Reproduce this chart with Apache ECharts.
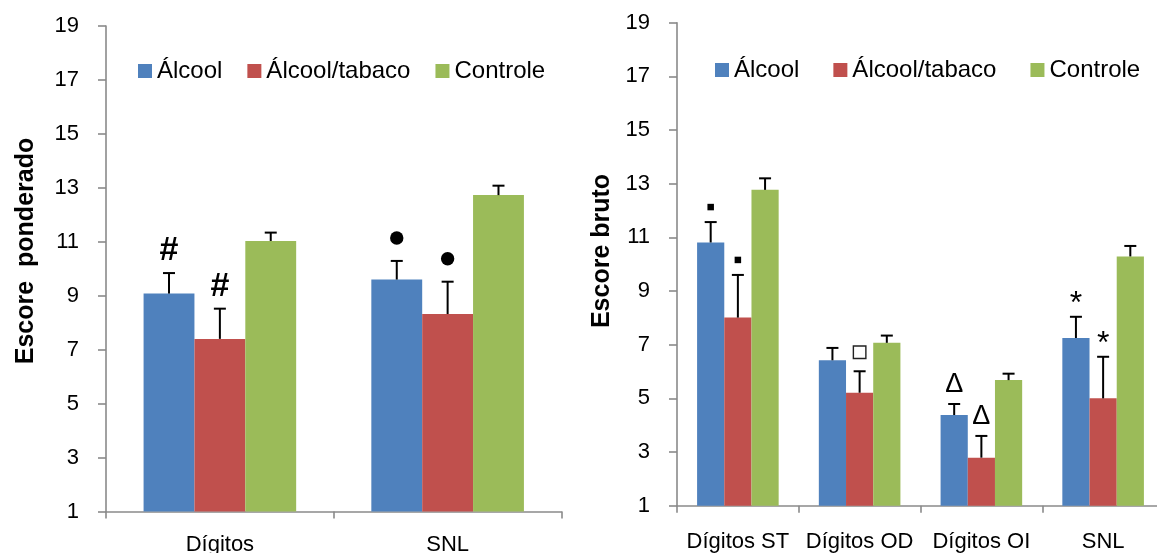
<!DOCTYPE html>
<html>
<head>
<meta charset="utf-8">
<script src="https://cdn.jsdelivr.net/npm/echarts@6/dist/echarts.min.js"></script>
<style>
  html, body { margin: 0; padding: 0; background: #fff; }
  #chart { width: 1157px; height: 553px; }
</style>
</head>
<body>
<div id="chart"></div>
<script>
// ---- data ----
const seriesNames = ['Álcool', 'Álcool/tabaco', 'Controle'];
const yTicks = [1, 3, 5, 7, 9, 11, 13, 15, 17, 19];

// Escore ponderado
const pondCats = ['Dígitos', 'SNL'];
const pondAlcool = [9.08, 9.60];
const pondAlcoolSE = [0.76, 0.69];
const pondAlcTab = [7.40, 8.32];
const pondAlcTabSE = [1.12, 1.20];
const pondControle = [11.03, 12.73];
const pondControleSE = [0.31, 0.35];
const pondMarks = [['#', '●'], ['#', '●'], ['', '']];

// Escore bruto
const brutoCats = ['Dígitos ST', 'Dígitos OD', 'Dígitos OI', 'SNL'];
const brutoAlcool = [10.81, 6.42, 4.38, 7.25];
const brutoAlcoolSE = [0.76, 0.46, 0.41, 0.79];
const brutoAlcTab = [8.01, 5.21, 2.79, 5.00];
const brutoAlcTabSE = [1.59, 0.80, 0.81, 1.55];
const brutoControle = [12.77, 7.07, 5.68, 10.29];
const brutoControleSE = [0.43, 0.27, 0.24, 0.39];
const brutoMarks = [['▪', '', 'Δ', '*'], ['▪', '□', 'Δ', '*'], ['', '', '', '']];

// ---- styling ----
const FONT = '"Liberation Sans", Arial, sans-serif';
const COLORS = ['#4F81BD', '#C0504D', '#9BBB59'];
const GAP = 0.33;
const AXIS_GRAY = '#8a8a8a';

const chart = echarts.init(document.getElementById('chart'), null, { renderer: 'canvas' });

function errorBarRenderer(pos) {
  return function (params, api) {
    const idx = api.value(0), mean = api.value(1), se = api.value(2);
    const band = api.size([1, 0])[0];
    const bw = band * (1 - GAP) / 3;
    const p0 = api.coord([idx, mean]);
    const p1 = api.coord([idx, mean + se]);
    const x = p0[0] + (pos - 1) * bw;
    const half = 6;
    const st = { stroke: '#000', lineWidth: 2 };
    return {
      type: 'group',
      children: [
        { type: 'line', shape: { x1: x, y1: p0[1], x2: x, y2: p1[1] }, style: st },
        { type: 'line', shape: { x1: x - half, y1: p1[1], x2: x + half, y2: p1[1] }, style: st }
      ]
    };
  };
}

// glyph drawing per marker kind: distance (px) of its centre above the error cap
const markStyles = {
  '#': { kind: 'text', font: 'bold 34px ' + FONT, lift: 22 },
  '●': { kind: 'circle', r: 6.7, lift: 23 },
  '▪': { kind: 'square', size: 6.5, lift: 15 },
  '□': { kind: 'box', size: 12.5, lift: 19 },
  'Δ': { kind: 'text', font: '27px ' + FONT, lift: 19 },
  '*': { kind: 'text', font: '32px ' + FONT, lift: 13 }
};

function markRenderer(pos, marks) {
  return function (params, api) {
    const sym = marks[params.dataIndex];
    if (!sym) return null;
    const idx = api.value(0), topVal = api.value(1);
    const band = api.size([1, 0])[0];
    const bw = band * (1 - GAP) / 3;
    const p = api.coord([idx, topVal]);
    const x = p[0] + (pos - 1) * bw;
    const ms = markStyles[sym];
    const y = p[1] - ms.lift;
    if (ms.kind === 'circle') {
      return { type: 'circle', shape: { cx: x, cy: y, r: ms.r }, style: { fill: '#000' } };
    }
    if (ms.kind === 'square') {
      return { type: 'rect', shape: { x: x - ms.size / 2, y: y - ms.size / 2, width: ms.size, height: ms.size }, style: { fill: '#000' } };
    }
    if (ms.kind === 'box') {
      return { type: 'rect', shape: { x: x - ms.size / 2, y: y - ms.size / 2, width: ms.size, height: ms.size }, style: { fill: '#fff', stroke: '#222', lineWidth: 1.4 } };
    }
    return {
      type: 'text', x: x, y: y,
      style: { text: sym, font: ms.font, fill: '#000', align: 'center', verticalAlign: 'middle', textAlign: 'center', textVerticalAlign: 'middle' }
    };
  };
}

function buildSeries(gridIdx, groups, marks) {
  const out = [];
  groups.forEach((g, i) => {
    out.push({
      type: 'bar', name: seriesNames[i], xAxisIndex: gridIdx, yAxisIndex: gridIdx,
      data: g.values, barGap: '0%', barCategoryGap: (GAP * 100) + '%',
      itemStyle: { color: COLORS[i] }, clip: true, z: 2
    });
  });
  groups.forEach((g, i) => {
    out.push({
      type: 'custom', name: seriesNames[i] + ' erro', xAxisIndex: gridIdx, yAxisIndex: gridIdx,
      renderItem: errorBarRenderer(i), z: 3, silent: true,
      data: g.values.map((v, k) => [k, v, g.se[k]])
    });
    out.push({
      type: 'custom', name: seriesNames[i] + ' sig', xAxisIndex: gridIdx, yAxisIndex: gridIdx,
      renderItem: markRenderer(i, marks[i]), z: 4, silent: true,
      data: g.values.map((v, k) => [k, v + g.se[k]])
    });
  });
  return out;
}

function xAxisCfg(gridIdx, cats, margin) {
  return {
    type: 'category', gridIndex: gridIdx, data: cats, boundaryGap: true,
    axisLine: { show: true, lineStyle: { color: AXIS_GRAY, width: 1.6 } },
    axisTick: { show: true, alignWithLabel: false, length: 7, lineStyle: { color: AXIS_GRAY, width: 1.6 } },
    axisLabel: { color: '#000', fontSize: 22, fontFamily: FONT, margin: margin, interval: 0 },
    splitLine: { show: false }
  };
}

function yAxisCfg(gridIdx) {
  return {
    type: 'value', gridIndex: gridIdx, min: yTicks[0], max: yTicks[yTicks.length - 1], interval: 2,
    axisLine: { show: true, lineStyle: { color: AXIS_GRAY, width: 1.6 } },
    axisTick: { show: true, inside: false, length: 8, lineStyle: { color: AXIS_GRAY, width: 1.6 } },
    axisLabel: { color: '#000', fontSize: 22, fontFamily: FONT, margin: 27 },
    splitLine: { show: false }
  };
}

const legendBase = {
  data: seriesNames, orient: 'horizontal', icon: 'rect', itemWidth: 14, itemHeight: 14,
  padding: 0, selectedMode: false,
  textStyle: { color: '#000', fontSize: 24, fontFamily: FONT }
};

const option = {
  animation: false,
  backgroundColor: '#fff',
  grid: [
    { left: 106, top: 26, width: 455.5, height: 485.5, containLabel: false, outerBoundsMode: 'none' },
    { left: 677, top: 22.7, width: 487, height: 483, containLabel: false, outerBoundsMode: 'none' }
  ],
  legend: [
    Object.assign({}, legendBase, { left: 138, top: 59, itemGap: 25 }),
    Object.assign({}, legendBase, { left: 715, top: 58, itemGap: 34 })
  ],
  xAxis: [xAxisCfg(0, pondCats, 22), xAxisCfg(1, brutoCats, 25)],
  yAxis: [yAxisCfg(0), yAxisCfg(1)],
  graphic: [
    {
      type: 'text', x: 26, y: 251, rotation: Math.PI / 2,
      style: { text: 'Escore  ponderado', font: 'bold 25px ' + FONT, fill: '#000', align: 'center', verticalAlign: 'middle', textAlign: 'center', textVerticalAlign: 'middle' }
    },
    {
      type: 'text', x: 602.5, y: 251, rotation: Math.PI / 2,
      style: { text: 'Escore bruto', font: 'bold 25px ' + FONT, fill: '#000', align: 'center', verticalAlign: 'middle', textAlign: 'center', textVerticalAlign: 'middle' }
    }
  ],
  series: [].concat(
    buildSeries(0, [
      { values: pondAlcool, se: pondAlcoolSE },
      { values: pondAlcTab, se: pondAlcTabSE },
      { values: pondControle, se: pondControleSE }
    ], pondMarks),
    buildSeries(1, [
      { values: brutoAlcool, se: brutoAlcoolSE },
      { values: brutoAlcTab, se: brutoAlcTabSE },
      { values: brutoControle, se: brutoControleSE }
    ], brutoMarks)
  )
};

chart.setOption(option);
</script>
</body>
</html>
